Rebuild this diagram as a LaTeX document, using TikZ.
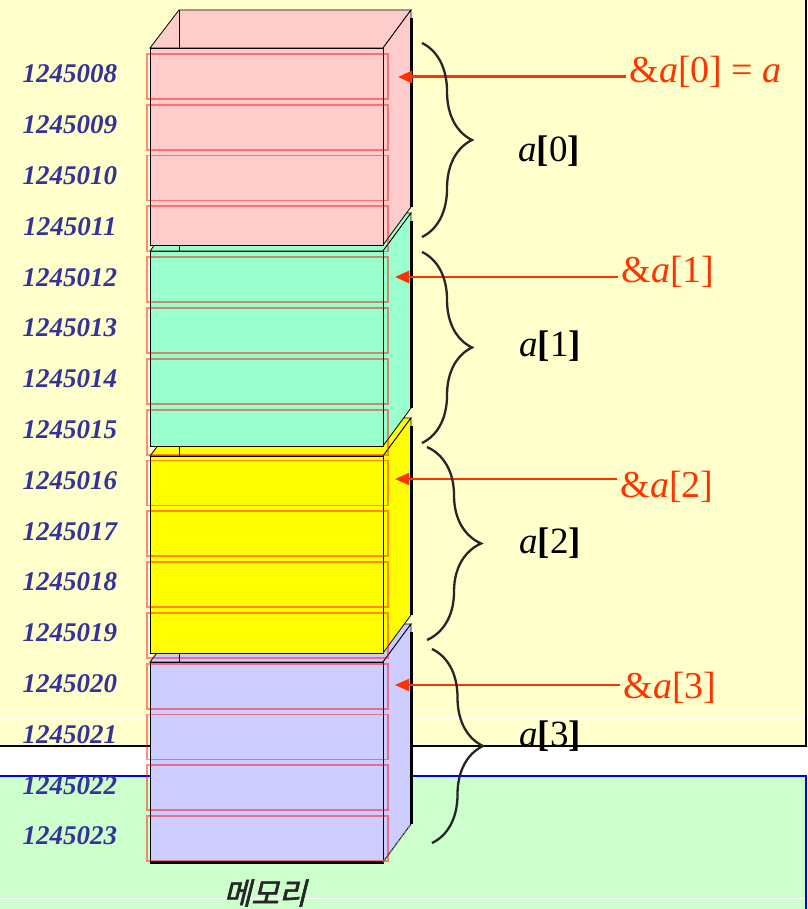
\documentclass[tikz,border=0pt]{standalone}
\usepackage{fontspec}
\setmainfont{Liberation Serif}
\newfontfamily\krfont[FakeSlant=0.25,FakeBold=2]{Noto Sans CJK KR}
\usetikzlibrary{matrix,arrows.meta,decorations.pathreplacing}
\definecolor{bgyellow}{HTML}{FFFFCC}
\definecolor{bggreen}{HTML}{CCFFCC}
\definecolor{mempink}{HTML}{FFCCCC}
\definecolor{memmint}{HTML}{99FFCC}
\definecolor{memyel}{HTML}{FFFF00}
\definecolor{memlav}{HTML}{CCCCFF}
\definecolor{addrblue}{HTML}{333399}
\definecolor{ptrred}{HTML}{FF3300}
\newcommand{\memblock}[3]{%
  \filldraw[blockedge, fill=#3] (150,#1) -- (179,#1-38) -- (411,#1-38) -- (383,#1) -- cycle;
  \draw[blockedge] (179,#1-38) -- (179,#1);
  \filldraw[blockedge, fill=#3] (383,#1) -- (411,#1-38) -- (411,#2-38) -- (383,#2) -- cycle;
  \draw[line width=3pt] (411,#1-30) -- (411,#2-38);
  \filldraw[blockedge, fill=#3] (150,#1) rectangle (383,#2);}
\tikzset{
  addrtext/.style={font=\bfseries\itshape\fontsize{27}{30}\selectfont, text=addrblue, inner sep=0pt, minimum height=30pt},
  ptrtext/.style={font=\fontsize{38}{42}\selectfont, text=ptrred, anchor=west},
  elemtext/.style={font=\fontsize{37}{40}\selectfont},
  ptrarrow/.style={draw=ptrred, -{Stealth[length=14pt,width=12pt,inset=0pt]}},
  elembrace/.style={decorate, decoration={brace, amplitude=#1}, draw=black!85, line width=2.3pt},
  cellline/.style={draw=red, draw opacity=0.45, line width=1.8pt},
  blockedge/.style={draw=black, line width=0.8pt}
}
\begin{document}
\begin{tikzpicture}[x=1pt,y=-1pt]
\useasboundingbox (0,0) rectangle (807,909);
% slide background
\fill[bgyellow] (0,0) rectangle (806,746);
\fill[bggreen] (0,776) rectangle (806,909);
\draw[white, line width=1pt] (0,718) -- (806,718) (0,898) -- (806,898);
\draw[line width=2pt] (0,746) -- (806,746) -- (806,0);
\draw[blue, line width=2pt] (0,776) -- (806,776) -- (806,909);
% the four int blocks, lowest first
\memblock{662}{862}{memlav}
\memblock{456}{653}{memyel}
\memblock{251}{446}{memmint}
\memblock{48}{245}{mempink}
\draw[line width=3pt] (150,862) -- (384,862);
\draw[black!50, dashed, line width=1.5pt] (383,862) -- (411,824);
\foreach \i in {0,...,15}
  \draw[cellline] (147,54+50.8*\i) rectangle (388,99+50.8*\i);
% addresses
\matrix (addr) [matrix of nodes, row sep=20.8pt, nodes={addrtext}] at (70,455)
{
  1245008 \\ 1245009 \\ 1245010 \\ 1245011 \\
  1245012 \\ 1245013 \\ 1245014 \\ 1245015 \\
  1245016 \\ 1245017 \\ 1245018 \\ 1245019 \\
  1245020 \\ 1245021 \\ 1245022 \\ 1245023 \\
};
% pointers
\coordinate (p0) at (398,77);
\coordinate (p1) at (395,277);
\coordinate (p2) at (395,479);
\coordinate (p3) at (395,685);
\node[ptrtext] (ptr0) at (626,72) {\&\textit{a}[0] = \textit{a}};
\node[ptrtext] (ptr1) at (618,272) {\&\textit{a}[1]};
\node[ptrtext] (ptr2) at (617,487) {\&\textit{a}[2]};
\node[ptrtext] (ptr3) at (620,688) {\&\textit{a}[3]};
\path[ptrarrow, line width=3pt] (ptr0.west |- p0) -- (p0);
\path[ptrarrow, line width=2.5pt] (ptr1.west |- p1) -- (p1);
\path[ptrarrow, line width=1.6pt] (ptr2.west |- p2) -- (p2);
\path[ptrarrow, line width=1.6pt] (ptr3.west |- p3) -- (p3);
% elements
\draw[elembrace=50pt] (422,43) -- (422,237);
\draw[elembrace=50pt] (422,252) -- (422,443);
\draw[elembrace=54pt] (427,447) -- (427,640);
\draw[elembrace=51pt] (432,649) -- (432,843);
\node[elemtext] (el0) at (549,151) {\textit{a}\textbf{[}0\textbf{]}};
\node[elemtext] (el1) at (550,346) {\textit{a}\textbf{[}1\textbf{]}};
\node[elemtext] (el2) at (550,543) {\textit{a}\textbf{[}2\textbf{]}};
\node[elemtext] (el3) at (550,736) {\textit{a}\textbf{[}3\textbf{]}};
\node[text=black!85] (memlbl) at (265,893) {\krfont\fontsize{30}{32}\selectfont 메모리};
\end{tikzpicture}
\end{document}
